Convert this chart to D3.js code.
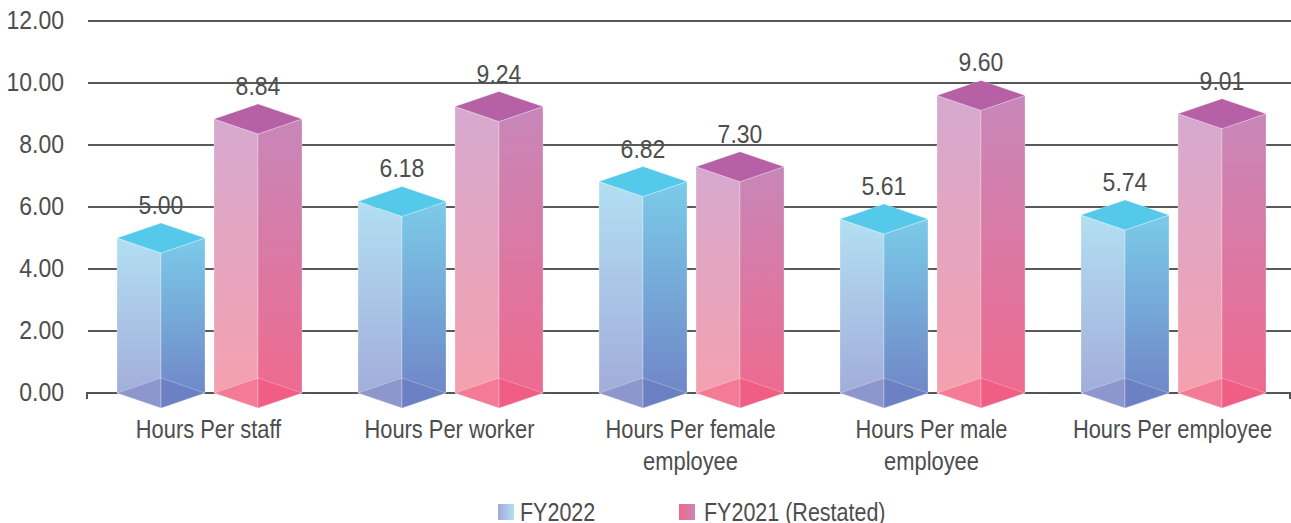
<!DOCTYPE html>
<html lang="en">
<head>
<meta charset="UTF-8">
<title>Training hours</title>
<script src="https://d3js.org/d3.v7.min.js"></script>
<style>
    html, body { margin: 0; padding: 0; background: #fff; overflow: hidden; }
    svg { display: block; }
    text { font-family: "Liberation Sans", Arial, sans-serif; font-size: 25px; fill: #4d4d4d; }
</style>
</head>
<body>
<div id="chart"></div>
<script>
    const categories = ["Hours Per staff", "Hours Per worker", "Hours Per female employee", "Hours Per male employee", "Hours Per employee"];
    const seriesNames = ["FY2022", "FY2021 (Restated)"];
    const fy2022 = [5.00, 6.18, 6.82, 5.61, 5.74];
    const fy2021 = [8.84, 9.24, 7.30, 9.60, 9.01];
    const yTicks = [0, 2, 4, 6, 8, 10, 12];

    const width = 1291, height = 523;
    const plotLeft = 87, plotRight = 1292, plotTop = 21, plotBottom = 393;
    const depth = 15; // half height of the top/bottom diamonds
    const squeezeText = 0.875, squeezeNum = 0.92; // reference font is narrow

    const palettes = [
        { top: "#55c9ea", base: ["#8d96cd", "#6c80c4"], left: ["#b2dff2", "#a1a9d8"], right: ["#7bcbe9", "#6f82c5"] },
        { top: "#b660a6", base: ["#f47b96", "#f05d85"], left: ["#d6a9cf", "#f6a0ad"], right: ["#c787b9", "#f0698d"] }
    ];

    const svg = d3.select("#chart").append("svg").attr("width", width).attr("height", height);
    const defs = svg.append("defs");

    const x = d3.scaleBand().domain(categories).range([plotLeft, plotRight]);
    const xBar = d3.scaleBand().domain(seriesNames).range([30, 215]).paddingInner(9 / 97);
    const y = d3.scaleLinear().domain([0, 12]).range([plotBottom, plotTop]);

    // gradients for the faces
    palettes.forEach((p, i) => {
        ["left", "right"].forEach(side => {
            const g = defs.append("linearGradient")
                .attr("id", `face-${i}-${side}`)
                .attr("x1", 0).attr("y1", 0).attr("x2", 0).attr("y2", 1);
            g.append("stop").attr("offset", "0%").attr("stop-color", p[side][0]);
            g.append("stop").attr("offset", "100%").attr("stop-color", p[side][1]);
        });
    });
    const legendGrad = [["#a1a9d8", "#b2dff2"], ["#f0698d", "#c787b9"]];
    legendGrad.forEach((c, i) => {
        const g = defs.append("linearGradient").attr("id", `legend-${i}`);
        g.append("stop").attr("offset", "0%").attr("stop-color", c[0]);
        g.append("stop").attr("offset", "100%").attr("stop-color", c[1]);
    });

    // gridlines
    svg.append("g").selectAll("line").data(yTicks.filter(d => d > 0)).join("line")
        .attr("x1", plotLeft + 1).attr("x2", width)
        .attr("y1", d => y(d)).attr("y2", d => y(d))
        .attr("stroke", "#222").attr("stroke-width", 1.4);

    // y axis labels
    const yAxis = svg.append("g").attr("transform", `translate(${plotLeft},0)`)
        .call(d3.axisLeft(y).tickValues(yTicks).tickSize(0).tickFormat(d3.format(".2f")));
    yAxis.select(".domain").remove();
    yAxis.attr("font-size", null).attr("font-family", null);
    yAxis.selectAll("text")
        .attr("x", null).attr("dy", null)
        .attr("text-anchor", "end").attr("dominant-baseline", "central")
        .attr("transform", `translate(-23,-1.5) scale(${squeezeNum},1)`);

    // baseline with small ticks at both ends
    const xAxis = svg.append("g").attr("transform", `translate(0,${plotBottom})`)
        .call(d3.axisBottom(x).tickSize(0).tickFormat(""));
    xAxis.select(".domain").attr("d", `M${plotLeft},6V0H${width - 1}V6`)
        .attr("stroke", "#555").attr("stroke-width", 2).attr("fill", "none");

    // bars
    const bars = [];
    categories.forEach((c, i) => {
        [fy2022[i], fy2021[i]].forEach((v, s) => {
            bars.push({ cat: c, s, v });
        });
    });
    const poly = pts => pts.map(p => p.join(",")).join(" ");
    const bar = svg.append("g").selectAll("g").data(bars).join("g")
        .attr("transform", d => `translate(${x(d.cat) + xBar(seriesNames[d.s])},0)`);
    const w = xBar.bandwidth(), m = w / 2;

    bar.append("polygon")
        .attr("points", d => poly([[0, y(d.v)], [m, y(d.v) + depth], [m, y(0) + depth], [0, y(0)]]))
        .attr("fill", d => `url(#face-${d.s}-left)`);
    bar.append("polygon")
        .attr("points", d => poly([[m, y(d.v) + depth], [w, y(d.v)], [w, y(0)], [m, y(0) + depth]]))
        .attr("fill", d => `url(#face-${d.s}-right)`);
    // base diamond shows through the faces
    bar.append("polygon")
        .attr("points", poly([[0, y(0)], [m, y(0) - depth], [m, y(0) + depth]]))
        .attr("fill", d => palettes[d.s].base[0]);
    bar.append("polygon")
        .attr("points", poly([[m, y(0) - depth], [w, y(0)], [m, y(0) + depth]]))
        .attr("fill", d => palettes[d.s].base[1]);
    bar.append("polygon")
        .attr("points", d => poly([[0, y(d.v)], [m, y(d.v) - depth], [w, y(d.v)], [m, y(d.v) + depth]]))
        .attr("fill", d => palettes[d.s].top);
    // faint light seams on the edges
    bar.selectAll("polygon").attr("stroke", "#fff").attr("stroke-opacity", 0.35).attr("stroke-width", 0.8);

    // value labels
    svg.append("g").selectAll("text").data(bars).join("text")
        .attr("text-anchor", "middle")
        .attr("transform", d => `translate(${x(d.cat) + xBar(seriesNames[d.s]) + m},${y(d.v) - 24}) scale(${squeezeNum},1)`)
        .text(d => d.v.toFixed(2));

    // category labels, wrapped by hand on the last word
    const wrapped = c => c.length > 18 ? [c.slice(0, c.lastIndexOf(" ")), c.slice(c.lastIndexOf(" ") + 1)] : [c];
    const cat = svg.append("g").selectAll("text").data(categories).join("text")
        .attr("text-anchor", "middle")
        .attr("transform", d => `translate(${x(d) + x.bandwidth() / 2 + 1},${plotBottom + 45}) scale(${squeezeText},1)`);
    cat.selectAll("tspan").data(d => wrapped(d)).join("tspan")
        .attr("x", 0).attr("dy", (d, i) => i ? 32 : 0).text(d => d);

    // legend
    const legendX = [498, 679], legendTextX = [520, 704];
    const legend = svg.append("g").selectAll("g").data(seriesNames).join("g");
    legend.append("rect")
        .attr("x", (d, i) => legendX[i]).attr("y", 504)
        .attr("width", 16).attr("height", 16)
        .attr("fill", (d, i) => `url(#legend-${i})`);
    legend.append("text")
        .attr("transform", (d, i) => `translate(${legendTextX[i]},521) scale(0.86,1)`)
        .text(d => d);
</script>
</body>
</html>
